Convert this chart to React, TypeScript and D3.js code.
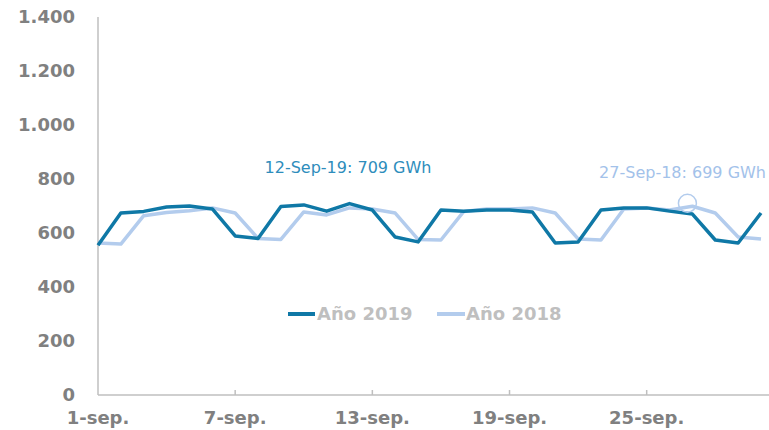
import React from "react";
import * as d3 from "d3";

const days = d3.range(1, 31);
const year2019 = [555, 674, 680, 696, 700, 689, 589, 580, 698, 704, 681, 709, 685, 585, 567, 685, 681, 685, 685, 678, 563, 567, 685, 693, 693, 681, 670, 574, 563, 674];
const year2018 = [563, 559, 664, 676, 682, 693, 674, 580, 576, 678, 667, 693, 689, 674, 576, 574, 680, 689, 689, 693, 674, 578, 574, 689, 693, 685, 699, 674, 585, 578];
const yTicks = [0, 200, 400, 600, 800, 1000, 1200, 1400];
const xTicks = [1, 7, 13, 19, 25];

const W = 769;
const H = 430;
const DARK = "#0f78a6";
const LIGHT = "#b3cced";
const GRAY = "#808080";
const AXIS = "#bfbfbf";
const FONT = "'DejaVu Sans', Verdana, sans-serif";

const fmt = (v: number) => d3.format(",")(v).replace(/,/g, ".");

export default function App() {
  const x = d3.scaleLinear().domain([1, 30]).range([98, 761]);
  const y = d3.scaleLinear().domain([0, 1400]).range([395, 17]);
  const line = d3
    .line<number>()
    .x((_, i) => x(days[i]))
    .y((d) => y(d));

  return (
    <svg width={W} height={H} style={{ position: "absolute", left: 0, top: 0 }}>
      <rect width={W} height={H} fill="#fff" />
      <line x1={98} x2={98} y1={y(1400)} y2={y(0)} stroke={AXIS} strokeWidth={1.5} />
      <line x1={98} x2={W} y1={y(0)} y2={y(0)} stroke={AXIS} strokeWidth={1.5} />
      {xTicks.slice(1).map((t) => (
        <line key={t} x1={x(t)} x2={x(t)} y1={y(0)} y2={y(0) - 5} stroke={AXIS} strokeWidth={1.5} />
      ))}
      {yTicks.map((t) => (
        <text key={t} x={75} y={y(t)} dy="0.36em" textAnchor="end" fontFamily={FONT} fontWeight="bold" fontSize={18} fill={GRAY}>
          {fmt(t)}
        </text>
      ))}
      {xTicks.map((t) => (
        <text key={t} x={x(t)} y={418} dy="0.36em" textAnchor="middle" fontFamily={FONT} fontWeight="bold" fontSize={18} fill={GRAY}>
          {t}-sep.
        </text>
      ))}
      <path d={line(year2018) || ""} fill="none" stroke={LIGHT} strokeWidth={3.5} strokeLinejoin="round" />
      <path d={line(year2019) || ""} fill="none" stroke={DARK} strokeWidth={3.5} strokeLinejoin="round" />
      <text x={348} y={173} textAnchor="middle" fontFamily={FONT} fontSize={16} fill="#2e8dbc">
        12-Sep-19: 709 GWh
      </text>
      <circle cx={x(27) - 5} cy={y(699) - 3} r={9} fill="none" stroke={LIGHT} strokeWidth={1.5} />
      <text x={766} y={178} textAnchor="end" fontFamily={FONT} fontSize={16} fill="#a3c2ea">
        27-Sep-18: 699 GWh
      </text>
      <line x1={288} x2={315} y1={314} y2={314} stroke={DARK} strokeWidth={4} />
      <text x={317} y={314} dy="0.36em" fontFamily={FONT} fontWeight="bold" fontSize={18} fill="#bfbfbf">
        Año 2019
      </text>
      <line x1={437} x2={465} y1={314} y2={314} stroke={LIGHT} strokeWidth={4} />
      <text x={466} y={314} dy="0.36em" fontFamily={FONT} fontWeight="bold" fontSize={18} fill="#bfbfbf">
        Año 2018
      </text>
    </svg>
  );
}
